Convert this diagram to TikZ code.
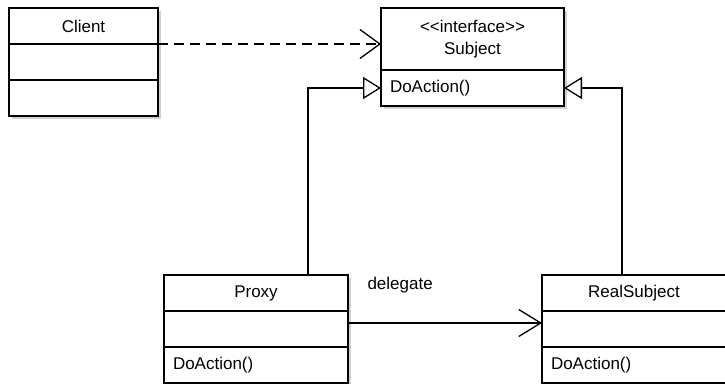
\documentclass[tikz,border=0pt]{standalone}
\usepackage{fontspec}
\setmainfont{Liberation Sans}
\usepackage{tikz}
\usetikzlibrary{positioning, arrows.meta, shadows}
\tikzstyle{umlbox} = [rectangle, draw=black, line width=1.3pt, fill=white, inner sep=0pt, outer sep=0pt, drop shadow={shadow xshift=3pt, shadow yshift=-3pt, fill=black!18, opacity=1}]
\tikzstyle{umlhead} = [umlbox, minimum height=36pt, align=center]
\tikzstyle{umlpart} = [umlbox, minimum height=36pt]
\tikzstyle{umlops} = [umlbox, minimum height=36pt, inner xsep=9pt, align=left]
\tikzstyle{usesarrow} = [line width=1.3pt, dash pattern=on 10pt off 6pt, -{Straight Barb[length=20pt, width=29pt, line width=1.3pt]}]
\tikzstyle{assocarrow} = [line width=1.3pt, -{Straight Barb[length=22pt, width=27pt, line width=1.3pt]}]
\tikzstyle{implarrow} = [line width=1.3pt, -{Triangle[open, fill=white, length=18pt, width=22pt, line width=1.3pt]}]

\begin{document}
\begin{tikzpicture}[x=1pt, y=-1pt, font=\fontsize{17}{21}\selectfont]
            \useasboundingbox (0,0) rectangle (725,383);
            % Client class
            \node[umlhead, minimum width=149pt] (client) at (83.5,26) {Client};
            \node[umlpart, minimum width=149pt, below=0pt of client] (clientattr) {};
            \node[umlpart, minimum width=149pt, below=0pt of clientattr] (clientops) {};

            % Subject interface
            \node[umlhead, minimum width=183pt, minimum height=62pt] (subject) at (472.5,39) {{<}{<}interface{>}{>}\\[1pt]Subject};
            \node[umlops, text width=165pt, below=0pt of subject] (subjectops) {DoAction()};

            % Proxy class
            \node[umlhead, minimum width=184pt] (proxy) at (256,293) {Proxy};
            \node[umlpart, minimum width=184pt, below=0pt of proxy] (proxyattr) {};
            \node[umlops, text width=166pt, below=0pt of proxyattr] (proxyops) {DoAction()};

            % RealSubject class
            \node[umlhead, minimum width=184pt] (real) at (634,293) {RealSubject};
            \node[umlpart, minimum width=184pt, below=0pt of real] (realattr) {};
            \node[umlops, text width=166pt, below=0pt of realattr] (realops) {DoAction()};

            % relations
            \draw[usesarrow] (client.south east) -- (client.south east -| subject.west);
            \draw[implarrow] ([xshift=52pt]proxy.north) |- (subjectops.west);
            \draw[implarrow] ([xshift=-12pt]real.north) |- (subjectops.east);
            \draw[assocarrow] ([yshift=6pt]proxyattr.east) -- ([yshift=6pt]realattr.west);
            \node[anchor=west] (delegate) at (364,285) {delegate};
        \end{tikzpicture}
\end{document}
